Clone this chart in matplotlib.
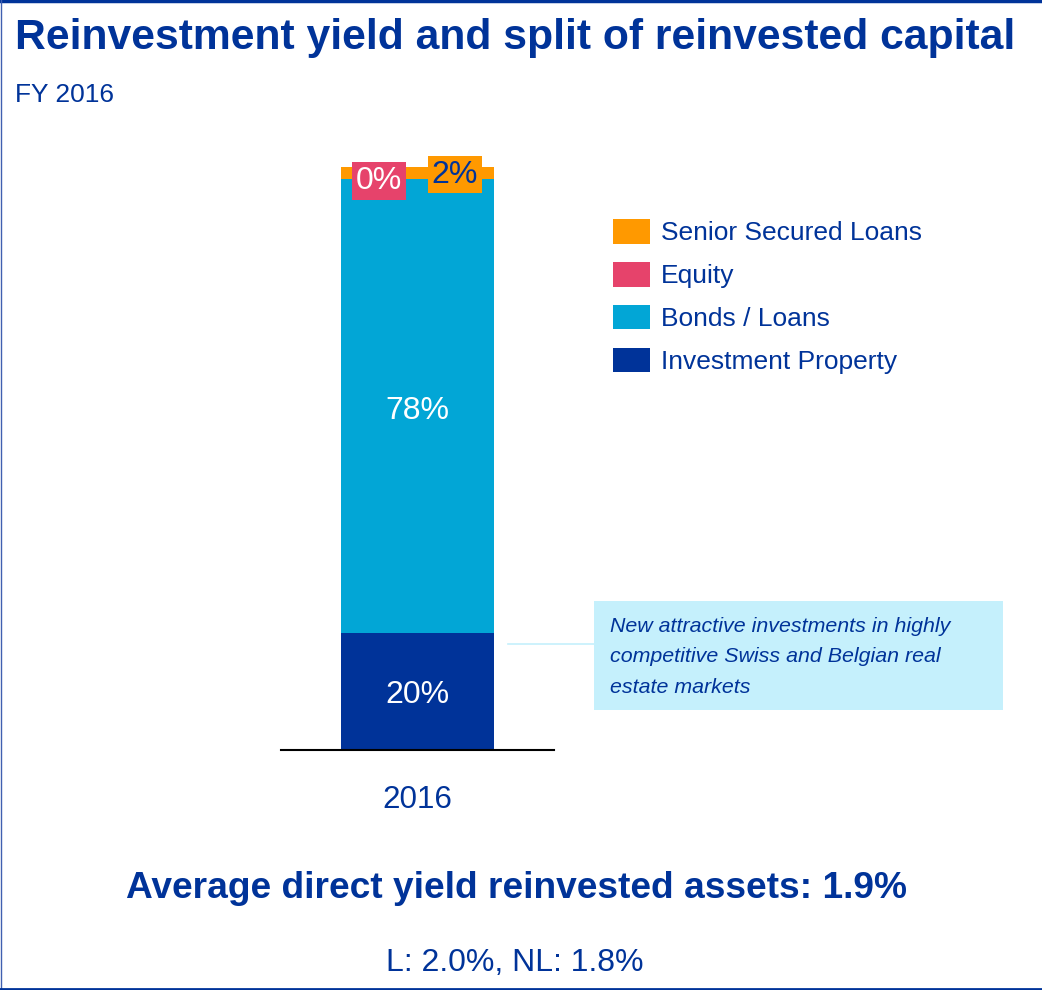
import matplotlib
matplotlib.use("Agg")
import matplotlib.pyplot as plt
from matplotlib.patches import Rectangle, Patch
from matplotlib.lines import Line2D

plt.rcParams['font.family'] = ['Liberation Sans', 'DejaVu Sans']

# ---- data ----
year = "2016"
categories = ["Investment Property", "Bonds / Loans", "Equity", "Senior Secured Loans"]
values = [20, 78, 0, 2]
labels = ["20%", "78%", "0%", "2%"]
colors = ["#003399", "#02A6D6", "#E6436B", "#FF9900"]

DARK = "#003399"
W, H = 1042, 990
fig = plt.figure(figsize=(W / 100, H / 100), dpi=100)

def fx(px):
    return px / W

def fy(py):
    return 1 - py / H

# frame
fig.add_artist(Line2D([0, 1], [fy(1), fy(1)], color=DARK, lw=2.5))
fig.add_artist(Line2D([fx(0.5), fx(0.5)], [0, 1], color="#4060B0", lw=1))
fig.add_artist(Line2D([0, 1], [fy(988.5), fy(988.5)], color=DARK, lw=2))

# titles
fig.text(fx(15), fy(38), "Reinvestment yield and split of reinvested capital",
         fontsize=30.7, fontweight="bold", color=DARK, ha="left", va="center")
fig.text(fx(15), fy(95), "FY 2016", fontsize=19, color=DARK, ha="left", va="center")

# bar axes
ax = fig.add_axes([fx(281), 1 - 750 / H, 273 / W, 583 / H])
half = 273 / 153 / 2
ax.set_xlim(-half, half)
ax.set_ylim(0, 100)
bottom = 0
for v, c in zip(values, colors):
    ax.bar(0, v, width=1, bottom=bottom, color=c, linewidth=0)
    bottom += v
for s in ["top", "right", "left"]:
    ax.spines[s].set_visible(False)
ax.spines["bottom"].set_color("black")
ax.spines["bottom"].set_linewidth(1.5)
ax.set_yticks([])
ax.set_xticks([0])
ax.set_xticklabels([year], fontsize=22.6, color=DARK)
ax.tick_params(axis="x", length=0, pad=25)

# segment labels
ax.text(0, values[0] / 2 - 0.5, labels[0], ha="center", va="center", fontsize=23, color="white")
ax.text(0, values[0] + values[1] / 2 - 0.8, labels[1], ha="center", va="center", fontsize=23, color="white")
ax.text(-0.252, 97.6, labels[2], ha="center", va="center", fontsize=23, color="white",
        bbox=dict(boxstyle="square,pad=0.12", fc=colors[2], ec="none"))
ax.text(0.242, 98.7, labels[3], ha="center", va="center", fontsize=23, color=DARK,
        bbox=dict(boxstyle="square,pad=0.12", fc=colors[3], ec="none"))

# legend
handles = [Patch(facecolor=colors[i], edgecolor="none", label=categories[i]) for i in [3, 2, 1, 0]]
leg = fig.legend(handles=handles, loc="upper left", bbox_to_anchor=(fx(605), fy(211)),
                 frameon=False, fontsize=19, handlelength=1.4, handleheight=1.06,
                 handletextpad=0.42, labelspacing=0.63, borderaxespad=0, borderpad=0.3)
for t in leg.get_texts():
    t.set_color(DARK)

# annotation box
fig.add_artist(Line2D([fx(508), fx(594)], [fy(644), fy(644)], color="#C5F0FC", lw=1.2))
fig.add_artist(Rectangle((fx(594), fy(710)), 409 / W, 109 / H, transform=fig.transFigure,
                         facecolor="#C5F0FC", edgecolor="none"))
fig.text(fx(610), fy(657), "New attractive investments in highly\ncompetitive Swiss and Belgian real\nestate markets",
         fontsize=15.4, style="italic", color=DARK, ha="left", va="center", linespacing=1.78)

# bottom texts
fig.text(fx(517), fy(889), "Average direct yield reinvested assets: 1.9%",
         fontsize=26.7, fontweight="bold", color=DARK, ha="center", va="center")
fig.text(fx(515), fy(963), "L: 2.0%, NL: 1.8%", fontsize=23, color=DARK, ha="center", va="center")

fig.savefig("out.png", dpi=100, facecolor="white")
